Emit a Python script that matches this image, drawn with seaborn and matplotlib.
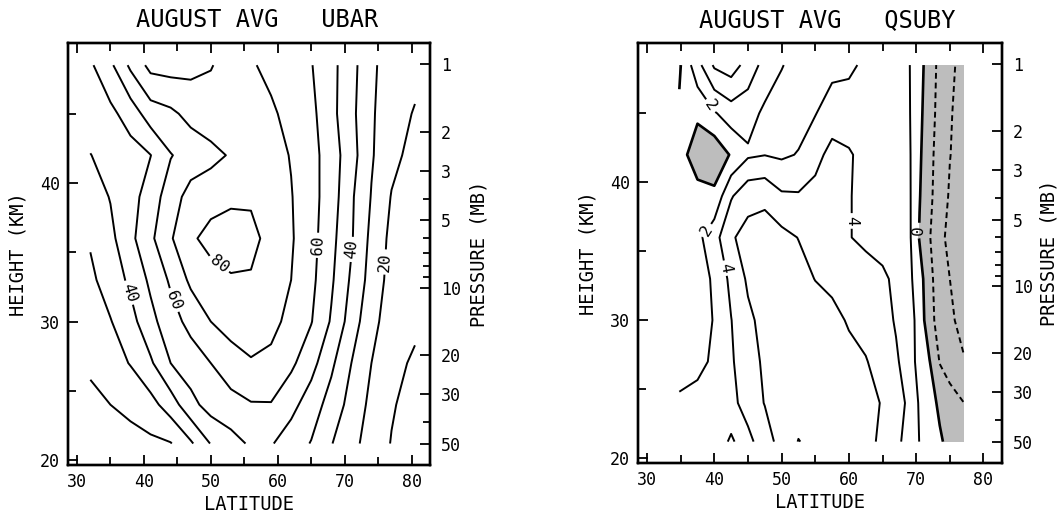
import numpy as np
import matplotlib
matplotlib.use("Agg")
import matplotlib.pyplot as plt
import seaborn as sns
from matplotlib.ticker import FixedLocator, FixedFormatter, NullFormatter

# ---------------- data ----------------
height_km = [21.2, 24, 27, 30, 33, 36, 39, 42, 45, 48.5]

# UBAR (m/s), rows = heights, columns = latitudes
ubar_lat = [32, 35, 38, 41, 44, 47, 50, 53, 56, 59, 62, 65, 68, 71, 74, 77, 80.5]
ubar_z21 = [11, 13, 16, 18, 19.5, 28.5, 40.5, 46, 51.5, 50.8, 45, 39.5, 30.5, 22.5, 16.5, 9.5, 4]
ubar_z24 = [17, 20, 23, 26.5, 35, 47, 54, 57, 59.3, 59.5, 53, 45, 36, 26.5, 17.5, 11, 6]
ubar_z27 = [22, 26, 30.5, 38.5, 50, 55, 60, 65, 69, 67.5, 62, 53.5, 42, 30, 20, 13, 8.5]
ubar_z30 = [25.5, 29.5, 36.5, 47, 56, 63, 70, 74.5, 76, 73, 67, 60.5, 49, 35.5, 22.5, 16, 12]
ubar_z33 = [28, 34.5, 42, 52, 61.5, 72, 76.5, 79, 79, 76, 70, 62.5, 51.5, 38.5, 26, 16.5, 14]
ubar_z36 = [31, 37.5, 47.5, 58, 69, 78.5, 83, 85, 83, 76.5, 71, 63.5, 53, 41, 27.5, 17.5, 14]
ubar_z39 = [35, 40.5, 46, 55, 65, 74, 76.5, 78, 78.5, 76, 70.5, 63.5, 55, 41.5, 29.5, 19.5, 16]
ubar_z42 = [39.8, 43, 46, 49.8, 59.5, 64, 67, 71, 74, 73.5, 69.5, 63.5, 55, 44, 31, 22.5, 17]
ubar_z45 = [44, 47.5, 54.5, 65, 68, 73, 76, 76, 75, 71.5, 67, 62.5, 53, 42.5, 31.5, 23, 19.5]
ubar_z48 = [48.5, 58, 72, 83, 84, 83, 80.5, 76.5, 71, 67.5, 64, 60.5, 53, 43.5, 32, 25, 22]
ubar_levels = [10, 20, 30, 40, 50, 60, 70, 80]

# QSUBY, rows = heights, columns = latitudes
qsuby_lat = [34.8, 37.5, 40, 42.5, 45, 47.5, 50, 52.5, 55, 57.5, 60, 62.5, 65, 67, 69, 70.5, 72, 73.5, 75, 77]
qsuby_z21 = [2.6, 3.0, 3.6, 4.1, 3.6, 4.8, 7.0, 8.05, 7.6, 7.4, 7.2, 6.6, 5.6, 4.5, 3.2, 1.95, 1.1, 0.25, -0.55, -1.3]
qsuby_z24 = [2.3, 2.5, 3.1, 3.6, 4.6, 6.1, 6.9, 7.35, 7.4, 7.2, 6.9, 6.5, 5.9, 4.8, 3.6, 1.75, 0.7, -0.35, -1.1, -1.95]
qsuby_z27 = [1.2, 1.6, 2.25, 3.8, 5.0, 6.4, 7.0, 7.3, 7.2, 7.0, 6.6, 6.1, 5.3, 4.3, 2.9, 1.25, 0.05, -2.1, -3.0, -3.8]
qsuby_z30 = [0.8, 1.2, 2.1, 3.95, 5.6, 6.6, 7.0, 7.2, 7.0, 6.6, 5.8, 5.4, 4.8, 3.8, 2.7, 1.3, -1.5, -2.6, -3.6, -4.7]
qsuby_z33 = [0.6, 1.1, 2.3, 4.5, 6.3, 6.8, 7.0, 6.7, 5.95, 5.5, 5.1, 4.8, 4.35, 3.6, 2.4, 0.9, -1.6, -2.8, -4.0, -5.0]
qsuby_z36 = [0.8, 1.5, 3.2, 5.8, 6.6, 6.8, 6.6, 5.95, 5.1, 4.6, 4.08, 3.6, 3.25, 2.9, 2.3, -0.15, -1.9, -3.4, -4.6, -5.6]
qsuby_z39 = [0.9, 0.8, 0.5, 3.8, 5.4, 5.6, 4.3, 4.2, 4.5, 4.6, 4.1, 3.5, 3.1, 2.8, 2.25, 0.1, -1.6, -3.0, -4.2, -5.2]
qsuby_z42 = [0.9, -1.2, -1.5, 0.2, 1.7, 1.95, 1.7, 2.1, 3.5, 4.5, 4.2, 3.4, 3.0, 2.7, 2.2, 0.3, -1.5, -2.8, -3.95, -4.8]
qsuby_z45 = [0.3, 0.4, 1.8, 3.0, 2.8, 1.6, 1.1, 1.3, 1.9, 3.2, 3.0, 3.0, 2.9, 2.7, 2.1, 0.5, -1.3, -2.6, -3.8, -4.9]
qsuby_z48 = [-0.3, 3.3, 6.3, 7.0, 5.2, 3.3, 2.1, 1.3, 1.1, 1.3, 1.6, 2.4, 3.0, 2.9, 2.05, 0.6, -0.9, -2.6, -3.6, -4.6]
qsuby_levels = [-4, -2, 0, 2, 4, 6, 8]

lat_ticks = [30, 40, 50, 60, 70, 80]
lat_minor = [35, 45, 55, 65, 75]
height_ticks = [20, 30, 40]
height_minor = [25, 35, 45]
pressure_ticks = [1, 2, 3, 5, 10, 20, 30, 50]
pressure_minor = [4, 6, 7, 8, 9, 40]

# ---------------- style ----------------
sns.set_theme(style="ticks", rc={
    "axes.edgecolor": "black", "text.color": "black", "axes.labelcolor": "black",
    "xtick.color": "black", "ytick.color": "black",
})
plt.rcParams["font.family"] = ["DejaVu Sans Mono", "DejaVu Sans"]

ubar = np.array([ubar_z21, ubar_z24, ubar_z27, ubar_z30, ubar_z33,
                 ubar_z36, ubar_z39, ubar_z42, ubar_z45, ubar_z48])
qsuby = np.array([qsuby_z21, qsuby_z24, qsuby_z27, qsuby_z30, qsuby_z33,
                  qsuby_z36, qsuby_z39, qsuby_z42, qsuby_z45, qsuby_z48])


def p_of_z(z):
    return 10.0 * 10 ** ((32.45 - z) / 16.1)


W, H = 1059, 515
fig = plt.figure(figsize=(W / 100, H / 100), dpi=100)
axL = fig.add_axes([68 / W, 1 - 465 / H, (430 - 68) / W, (465 - 43) / H])
axR = fig.add_axes([638 / W, 1 - 463 / H, (1002 - 638) / W, (463 - 43) / H])

XLIM = (28.66, 82.75)
YLIM = (19.65, 50.1)


def style_axes(ax, plabel_x):
    ax.set_xlim(*XLIM)
    ax.set_ylim(*YLIM)
    ax.set_xticks(lat_ticks)
    ax.set_xticks(lat_minor, minor=True)
    ax.set_yticks(height_ticks)
    ax.set_yticks(height_minor, minor=True)
    ax.tick_params(which="both", direction="in", top=True, right=False,
                   labelsize=12, width=1.3, pad=6)
    ax.tick_params(which="major", length=7)
    ax.tick_params(which="minor", length=6)
    for s in ax.spines.values():
        s.set_linewidth(1.7)
        s.set_color("black")
    ax.set_xlabel("LATITUDE", fontsize=13.5, labelpad=3)
    ax.set_ylabel("HEIGHT (KM)", fontsize=13.5, labelpad=9)

    ax2 = ax.twinx()
    ax2.set_yscale("log")
    ax2.set_ylim(p_of_z(YLIM[0]), p_of_z(YLIM[1]))
    ax2.yaxis.set_major_locator(FixedLocator(pressure_ticks))
    ax2.yaxis.set_major_formatter(FixedFormatter([str(p) for p in pressure_ticks]))
    ax2.yaxis.set_minor_locator(FixedLocator(pressure_minor))
    ax2.yaxis.set_minor_formatter(NullFormatter())
    ax2.tick_params(which="both", direction="in", labelsize=12, width=1.3, pad=8)
    ax2.tick_params(which="major", length=7)
    ax2.tick_params(which="minor", length=5)
    for s in ax2.spines.values():
        s.set_linewidth(1.7)
        s.set_color("black")
    ax2.set_ylabel("PRESSURE (MB)", fontsize=13.5)
    ax2.yaxis.set_label_coords(plabel_x, 0.5)
    return ax2


style_axes(axL, 1.108)
style_axes(axR, 1.102)

# ---------------- UBAR ----------------
csL = axL.contour(ubar_lat, height_km, ubar, levels=ubar_levels,
                  colors="black", linewidths=1.4, linestyles="solid")
ubar_label_pos = [(37.9, 32.1), (71.2, 35.2), (44.2, 31.5), (66.0, 35.5),
                  (51.8, 34.5), (75.9, 34.3)]
csL.clabel(manual=ubar_label_pos, fmt="%d", fontsize=11.5,
           inline=True, inline_spacing=3)

# ---------------- QSUBY ----------------
axR.contourf(qsuby_lat, height_km, qsuby, levels=[-50, 0],
             colors=["#bdbdbd"])
csR = axR.contour(qsuby_lat, height_km, qsuby, levels=qsuby_levels,
                  colors="black",
                  linewidths=[1.4, 1.4, 1.9, 1.4, 1.4, 1.4, 1.4],
                  linestyles=[(0, (3, 2)), (0, (3, 2)), "solid", "solid",
                              "solid", "solid", "solid"])
qsuby_label_pos = [(39.6, 45.6), (38.6, 36.6), (41.9, 33.8), (60.0, 37.2),
                   (70.5, 36.5)]
csR.clabel(manual=qsuby_label_pos, fmt="%d", fontsize=11.5,
           inline=True, inline_spacing=3)

# ---------------- titles ----------------
fig.text(257 / W, 1 - 20 / H, "AUGUST AVG   UBAR", ha="center", va="center",
         fontsize=17)
fig.text(827 / W, 1 - 20 / H, "AUGUST AVG   QSUBY", ha="center", va="center",
         fontsize=17)

fig.savefig("out.png", dpi=100)
